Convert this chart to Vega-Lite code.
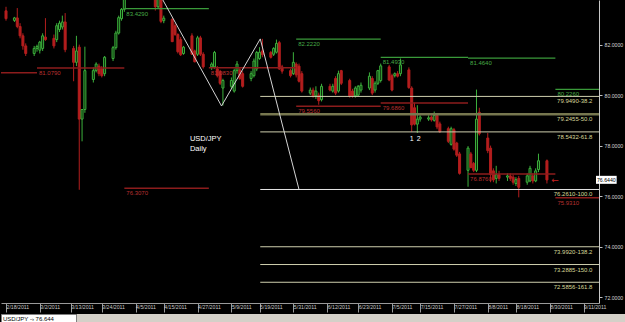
{
  "$schema": "https://vega.github.io/schema/vega-lite/v6.json",
  "background": "black",
  "padding": 0,
  "spacing": 0,
  "config": {
    "view": {"stroke": null},
    "font": "Liberation Sans",
    "axis": {"labelFont": "Liberation Sans", "labelOverlap": false},
    "concat": {"spacing": 0}
  },
  "vconcat": [
    {
      "width": 598,
      "height": 303,
      "view": {"fill": "black", "stroke": null},
      "layer": [
        {
          "data": {
            "values": [
              {"d":"2011-02-18","o":83.34,"h":83.5,"l":82.95,"c":83.03},
              {"d":"2011-02-21","o":82.96,"h":83.1,"l":82.9,"c":83.06},
              {"d":"2011-02-22","o":83.06,"h":83.45,"l":82.65,"c":82.72},
              {"d":"2011-02-23","o":82.72,"h":82.85,"l":82.25,"c":82.35},
              {"d":"2011-02-24","o":82.35,"h":82.45,"l":81.8,"c":81.95},
              {"d":"2011-02-25","o":81.95,"h":82.05,"l":81.55,"c":81.65},
              {"d":"2011-02-28","o":81.65,"h":81.95,"l":81.55,"c":81.85},
              {"d":"2011-03-01","o":81.85,"h":82.0,"l":81.72,"c":81.93},
              {"d":"2011-03-02","o":81.78,"h":82.15,"l":81.65,"c":82.1},
              {"d":"2011-03-03","o":81.85,"h":82.45,"l":81.75,"c":82.35},
              {"d":"2011-03-04","o":82.3,"h":83.05,"l":82.15,"c":82.2},
              {"d":"2011-03-07","o":82.25,"h":82.4,"l":81.85,"c":81.95},
              {"d":"2011-03-08","o":82.2,"h":82.85,"l":82.1,"c":82.75},
              {"d":"2011-03-09","o":82.6,"h":82.95,"l":82.5,"c":82.85},
              {"d":"2011-03-10","o":82.7,"h":83.15,"l":82.6,"c":82.9},
              {"d":"2011-03-11","o":82.9,"h":83.25,"l":81.7,"c":81.8},
              {"d":"2011-03-14","o":81.85,"h":81.95,"l":80.55,"c":81.3},
              {"d":"2011-03-15","o":81.3,"h":82.35,"l":81.15,"c":81.75},
              {"d":"2011-03-16","o":81.9,"h":82.0,"l":76.25,"c":79.05},
              {"d":"2011-03-17","o":79.05,"h":79.45,"l":78.17,"c":79.43},
              {"d":"2011-03-18","o":79.43,"h":81.92,"l":79.3,"c":80.97},
              {"d":"2011-03-21","o":80.62,"h":81.1,"l":80.5,"c":80.97},
              {"d":"2011-03-22","o":80.97,"h":81.3,"l":80.9,"c":81.23},
              {"d":"2011-03-23","o":81.15,"h":81.25,"l":80.75,"c":80.85},
              {"d":"2011-03-24","o":81.04,"h":81.15,"l":80.7,"c":80.77},
              {"d":"2011-03-25","o":80.85,"h":81.55,"l":80.75,"c":81.5},
              {"d":"2011-03-28","o":81.45,"h":81.95,"l":81.35,"c":81.88},
              {"d":"2011-03-29","o":81.88,"h":82.55,"l":81.8,"c":82.46},
              {"d":"2011-03-30","o":82.46,"h":83.15,"l":82.4,"c":83.07},
              {"d":"2011-03-31","o":83.03,"h":83.45,"l":82.95,"c":83.4},
              {"d":"2011-04-01","o":83.4,"h":84.2,"l":83.3,"c":84.05},
              {"d":"2011-04-04","o":84.05,"h":84.45,"l":83.9,"c":84.3},
              {"d":"2011-04-05","o":84.3,"h":85.1,"l":84.2,"c":85.0},
              {"d":"2011-04-06","o":85.0,"h":85.52,"l":84.75,"c":85.2},
              {"d":"2011-04-07","o":85.2,"h":85.3,"l":84.6,"c":84.85},
              {"d":"2011-04-08","o":84.85,"h":85.3,"l":84.5,"c":84.75},
              {"d":"2011-04-11","o":84.75,"h":85.0,"l":84.2,"c":84.3},
              {"d":"2011-04-12","o":84.3,"h":84.4,"l":83.35,"c":83.5},
              {"d":"2011-04-13","o":83.5,"h":84.2,"l":83.45,"c":83.9},
              {"d":"2011-04-14","o":83.85,"h":83.95,"l":82.85,"c":82.92},
              {"d":"2011-04-15","o":82.95,"h":83.15,"l":82.85,"c":83.05},
              {"d":"2011-04-18","o":83.0,"h":83.05,"l":82.1,"c":82.12},
              {"d":"2011-04-19","o":82.75,"h":82.85,"l":82.35,"c":82.4},
              {"d":"2011-04-20","o":82.4,"h":82.45,"l":81.65,"c":81.72},
              {"d":"2011-04-21","o":82.2,"h":82.3,"l":81.55,"c":81.6},
              {"d":"2011-04-22","o":81.65,"h":81.95,"l":81.6,"c":81.9},
              {"d":"2011-04-25","o":82.35,"h":82.45,"l":81.6,"c":81.62},
              {"d":"2011-04-26","o":81.75,"h":81.8,"l":81.3,"c":81.32},
              {"d":"2011-04-27","o":81.62,"h":82.35,"l":81.55,"c":82.27},
              {"d":"2011-04-28","o":82.27,"h":82.35,"l":81.55,"c":81.62},
              {"d":"2011-04-29","o":81.62,"h":81.7,"l":81.05,"c":81.12},
              {"d":"2011-05-02","o":81.12,"h":81.3,"l":81.0,"c":81.23},
              {"d":"2011-05-03","o":81.12,"h":81.75,"l":81.05,"c":81.69},
              {"d":"2011-05-04","o":81.04,"h":81.15,"l":80.7,"c":80.77},
              {"d":"2011-05-05","o":80.93,"h":81.0,"l":80.4,"c":80.47},
              {"d":"2011-05-06","o":80.28,"h":80.65,"l":79.59,"c":80.58},
              {"d":"2011-05-09","o":80.35,"h":80.7,"l":80.25,"c":80.58},
              {"d":"2011-05-10","o":80.16,"h":81.05,"l":80.1,"c":80.97},
              {"d":"2011-05-11","o":80.97,"h":81.35,"l":80.85,"c":81.23},
              {"d":"2011-05-12","o":81.0,"h":81.1,"l":80.6,"c":80.66},
              {"d":"2011-05-13","o":80.85,"h":80.95,"l":80.3,"c":80.35},
              {"d":"2011-05-16","o":80.66,"h":80.95,"l":80.55,"c":80.85},
              {"d":"2011-05-17","o":80.77,"h":81.45,"l":80.7,"c":81.35},
              {"d":"2011-05-18","o":81.04,"h":81.75,"l":80.95,"c":81.69},
              {"d":"2011-05-19","o":81.45,"h":81.9,"l":81.4,"c":81.7},
              {"d":"2011-05-20","o":81.75,"h":82.23,"l":81.5,"c":81.6},
              {"d":"2011-05-23","o":81.69,"h":81.75,"l":81.45,"c":81.5},
              {"d":"2011-05-24","o":81.62,"h":81.9,"l":81.55,"c":81.85},
              {"d":"2011-05-25","o":81.7,"h":82.2,"l":81.65,"c":82.05},
              {"d":"2011-05-26","o":82.08,"h":82.15,"l":81.0,"c":81.04},
              {"d":"2011-05-27","o":81.12,"h":81.2,"l":80.85,"c":80.95},
              {"d":"2011-05-30","o":80.97,"h":81.05,"l":80.7,"c":80.77},
              {"d":"2011-05-31","o":80.85,"h":81.7,"l":80.8,"c":81.3},
              {"d":"2011-06-01","o":81.23,"h":81.3,"l":80.7,"c":80.8},
              {"d":"2011-06-02","o":81.15,"h":81.25,"l":80.5,"c":80.55},
              {"d":"2011-06-03","o":80.85,"h":80.95,"l":80.1,"c":80.16},
              {"d":"2011-06-06","o":80.08,"h":80.3,"l":80.0,"c":80.2},
              {"d":"2011-06-07","o":80.2,"h":80.3,"l":79.9,"c":79.97},
              {"d":"2011-06-08","o":79.97,"h":80.35,"l":79.85,"c":80.16},
              {"d":"2011-06-09","o":80.0,"h":80.1,"l":79.62,"c":79.78},
              {"d":"2011-06-10","o":79.82,"h":80.45,"l":79.75,"c":80.35},
              {"d":"2011-06-13","o":80.35,"h":80.45,"l":80.15,"c":80.2},
              {"d":"2011-06-14","o":80.16,"h":80.45,"l":80.1,"c":80.35},
              {"d":"2011-06-15","o":80.66,"h":80.75,"l":80.0,"c":80.08},
              {"d":"2011-06-16","o":80.16,"h":80.97,"l":80.1,"c":80.85},
              {"d":"2011-06-17","o":80.97,"h":81.0,"l":80.4,"c":80.47},
              {"d":"2011-06-20","o":80.58,"h":80.65,"l":79.9,"c":79.97},
              {"d":"2011-06-21","o":80.16,"h":80.25,"l":79.9,"c":79.97},
              {"d":"2011-06-22","o":79.97,"h":80.35,"l":79.9,"c":80.28},
              {"d":"2011-06-23","o":80.0,"h":80.4,"l":79.95,"c":80.35},
              {"d":"2011-06-24","o":80.2,"h":80.5,"l":80.1,"c":80.39},
              {"d":"2011-06-27","o":80.28,"h":80.9,"l":80.2,"c":80.75},
              {"d":"2011-06-28","o":80.66,"h":80.75,"l":80.0,"c":80.08},
              {"d":"2011-06-29","o":80.2,"h":80.55,"l":80.1,"c":80.47},
              {"d":"2011-06-30","o":80.47,"h":81.0,"l":80.4,"c":80.97},
              {"d":"2011-07-01","o":80.58,"h":81.25,"l":80.5,"c":81.16},
              {"d":"2011-07-04","o":81.12,"h":81.2,"l":80.55,"c":80.6},
              {"d":"2011-07-05","o":80.77,"h":80.85,"l":80.15,"c":80.2},
              {"d":"2011-07-06","o":80.77,"h":80.9,"l":80.7,"c":80.85},
              {"d":"2011-07-07","o":80.85,"h":80.95,"l":80.7,"c":80.75},
              {"d":"2011-07-08","o":80.85,"h":81.45,"l":80.75,"c":81.2},
              {"d":"2011-07-11","o":81.0,"h":81.1,"l":80.25,"c":80.3},
              {"d":"2011-07-12","o":80.28,"h":80.35,"l":78.55,"c":78.82},
              {"d":"2011-07-13","o":79.5,"h":79.7,"l":78.8,"c":78.85},
              {"d":"2011-07-14","o":78.85,"h":79.6,"l":78.5,"c":79.05},
              {"d":"2011-07-15","o":79.05,"h":79.2,"l":78.95,"c":79.13},
              {"d":"2011-07-18","o":79.05,"h":79.2,"l":78.98,"c":79.1},
              {"d":"2011-07-19","o":79.13,"h":79.2,"l":78.95,"c":79.02},
              {"d":"2011-07-20","o":79.0,"h":79.35,"l":78.95,"c":79.2},
              {"d":"2011-07-21","o":79.2,"h":79.25,"l":78.65,"c":78.74},
              {"d":"2011-07-22","o":78.86,"h":78.95,"l":78.5,"c":78.55},
              {"d":"2011-07-25","o":78.67,"h":78.75,"l":78.1,"c":78.17},
              {"d":"2011-07-26","o":78.05,"h":78.75,"l":78.0,"c":78.67},
              {"d":"2011-07-27","o":78.63,"h":78.7,"l":77.8,"c":77.86},
              {"d":"2011-07-28","o":78.1,"h":78.15,"l":77.55,"c":77.62},
              {"d":"2011-07-29","o":77.67,"h":77.75,"l":76.85,"c":76.9},
              {"d":"2011-08-01","o":77.02,"h":77.98,"l":76.37,"c":77.9},
              {"d":"2011-08-02","o":77.67,"h":77.75,"l":77.1,"c":77.13},
              {"d":"2011-08-03","o":77.29,"h":77.35,"l":76.95,"c":77.02},
              {"d":"2011-08-04","o":77.02,"h":80.22,"l":76.95,"c":79.05},
              {"d":"2011-08-05","o":79.32,"h":79.5,"l":78.4,"c":78.47},
              {"d":"2011-08-08","o":78.3,"h":78.5,"l":77.7,"c":77.8},
              {"d":"2011-08-09","o":77.9,"h":78.0,"l":76.55,"c":76.85},
              {"d":"2011-08-10","o":77.0,"h":77.1,"l":76.55,"c":76.64},
              {"d":"2011-08-11","o":76.7,"h":77.2,"l":76.5,"c":76.85},
              {"d":"2011-08-12","o":76.85,"h":77.0,"l":76.6,"c":76.7},
              {"d":"2011-08-15","o":76.75,"h":76.9,"l":76.6,"c":76.8},
              {"d":"2011-08-16","o":76.8,"h":76.9,"l":76.6,"c":76.7},
              {"d":"2011-08-17","o":76.75,"h":76.85,"l":76.45,"c":76.55},
              {"d":"2011-08-18","o":76.5,"h":76.75,"l":76.4,"c":76.65},
              {"d":"2011-08-19","o":76.7,"h":76.8,"l":75.95,"c":76.35},
              {"d":"2011-08-22","o":76.55,"h":76.9,"l":76.45,"c":76.8},
              {"d":"2011-08-23","o":76.6,"h":77.2,"l":76.55,"c":77.1},
              {"d":"2011-08-24","o":76.8,"h":76.9,"l":76.5,"c":76.6},
              {"d":"2011-08-25","o":76.6,"h":77.1,"l":76.55,"c":77.0},
              {"d":"2011-08-26","o":77.05,"h":77.68,"l":76.95,"c":77.4},
              {"d":"2011-08-29","o":77.4,"h":77.45,"l":76.5,"c":76.64}
            ],
            "format": {"parse": {"d": "date:'%Y-%m-%d'"}}
          },
          "layer": [
            {
              "mark": {"type": "rule", "clip": true, "strokeWidth": 1},
              "encoding": {
                "x": {
                  "field": "d", "type": "temporal", "title": null,
                  "scale": {"domain": [{"year": 2011, "month": 2, "date": 18}, {"year": 2011, "month": 9, "date": 14, "hours": 17}]},
                  "axis": {
                    "values": [
                      {"year": 2011, "month": 2, "date": 18}, {"year": 2011, "month": 3, "date": 2},
                      {"year": 2011, "month": 3, "date": 13}, {"year": 2011, "month": 3, "date": 24},
                      {"year": 2011, "month": 4, "date": 5}, {"year": 2011, "month": 4, "date": 15},
                      {"year": 2011, "month": 4, "date": 27}, {"year": 2011, "month": 5, "date": 9},
                      {"year": 2011, "month": 5, "date": 19}, {"year": 2011, "month": 5, "date": 31},
                      {"year": 2011, "month": 6, "date": 12}, {"year": 2011, "month": 6, "date": 23},
                      {"year": 2011, "month": 7, "date": 5}, {"year": 2011, "month": 7, "date": 15},
                      {"year": 2011, "month": 7, "date": 27}, {"year": 2011, "month": 8, "date": 8},
                      {"year": 2011, "month": 8, "date": 18}, {"year": 2011, "month": 8, "date": 30},
                      {"year": 2011, "month": 9, "date": 11}
                    ],
                    "tickCount": 40,
                    "format": "%-m/%-d/%Y",
                    "labelAlign": "left", "labelBaseline": "top", "labelDx": 1.5,
                    "tickSize": 9, "labelPadding": -8, "labelFontSize": 5.2,
                    "labelColor": "#c8c8c8", "tickColor": "#9a9a9a", "domainColor": "#9a9a9a",
                    "labelOverlap": false, "labelFlush": false, "labelBound": false,
                    "title": null, "grid": false
                  }
                },
                "y": {
                  "field": "l", "type": "quantitative", "title": null,
                  "scale": {"domain": [71.962, 83.571], "nice": false, "zero": false},
                  "axis": {
                    "orient": "right", "values": [72, 74, 76, 78, 80, 82], "tickCount": 20, "format": ".4f",
                    "tickSize": 3, "labelPadding": 2, "labelFontSize": 5.2,
                    "labelColor": "#d4d4d4", "tickColor": "#c0c0c0", "domainColor": "#c8c8c8",
                    "labelOverlap": false, "labelFlush": false, "labelBound": false,
                    "title": null, "grid": false
                  }
                },
                "y2": {"field": "h"},
                "color": {"condition": {"test": "datum.c >= datum.o", "value": "#3cb03c"}, "value": "#b41e1e"}
              }
            },
            {
              "mark": {"type": "bar", "clip": true, "width": 2, "strokeWidth": 1},
              "encoding": {
                "x": {"field": "d", "type": "temporal", "title": null},
                "y": {"field": "o", "type": "quantitative", "title": null},
                "y2": {"field": "c"},
                "fill": {"condition": {"test": "datum.c >= datum.o", "value": "#0a2a0a"}, "value": "#b41e1e"},
                "stroke": {"condition": {"test": "datum.c >= datum.o", "value": "#3cb03c"}, "value": "#b41e1e"}
              }
            }
          ]
        },
        {
          "data": {
            "values": [
              {"s": "2011-02-01", "e": "2011-03-01", "p": 80.89, "t": "lo"},
              {"s": "2011-03-01", "e": "2011-04-01", "p": 81.079, "t": "lo"},
              {"s": "2011-04-01", "e": "2011-05-01", "p": 83.429, "t": "hi"},
              {"s": "2011-04-01", "e": "2011-05-01", "p": 76.307, "t": "lo"},
              {"s": "2011-05-01", "e": "2011-06-01", "p": 81.083, "t": "lo"},
              {"s": "2011-06-01", "e": "2011-07-01", "p": 82.222, "t": "hi"},
              {"s": "2011-06-01", "e": "2011-07-01", "p": 79.556, "t": "lo"},
              {"s": "2011-07-01", "e": "2011-08-01", "p": 81.493, "t": "hi"},
              {"s": "2011-07-01", "e": "2011-08-01", "p": 79.686, "t": "lo"},
              {"s": "2011-08-01", "e": "2011-09-01", "p": 81.464, "t": "hi"},
              {"s": "2011-08-01", "e": "2011-09-01", "p": 76.876, "t": "lo"},
              {"s": "2011-09-01", "e": "2011-10-01", "p": 80.226, "t": "hi"},
              {"s": "2011-09-01", "e": "2011-10-01", "p": 75.931, "t": "lo"}
            ],
            "format": {"parse": {"s": "date:'%Y-%m-%d'", "e": "date:'%Y-%m-%d'"}}
          },
          "layer": [
            {
              "transform": [{"filter": "datum.t == 'hi'"}],
              "mark": {"type": "rule", "clip": true, "color": "#3a9a3a", "strokeWidth": 1.2},
              "encoding": {
                "x": {"field": "s", "type": "temporal", "title": null},
                "x2": {"field": "e"},
                "y": {"field": "p", "type": "quantitative", "title": null}
              }
            },
            {
              "transform": [{"filter": "datum.t == 'lo'"}],
              "mark": {"type": "rule", "clip": true, "color": "#8c1c1c", "strokeWidth": 1.5},
              "encoding": {
                "x": {"field": "s", "type": "temporal", "title": null},
                "x2": {"field": "e"},
                "y": {"field": "p", "type": "quantitative", "title": null}
              }
            },
            {
              "transform": [{"filter": "datum.t == 'hi' && month(datum.s) >= 2"}],
              "mark": {"type": "text", "clip": true, "align": "left", "baseline": "top", "dx": 2, "dy": 2, "fontSize": 6, "color": "#46aa46"},
              "encoding": {
                "x": {"field": "s", "type": "temporal", "title": null},
                "y": {"field": "p", "type": "quantitative", "title": null},
                "text": {"field": "p", "type": "quantitative", "format": ".4f"}
              }
            },
            {
              "transform": [{"filter": "datum.t == 'lo' && month(datum.s) >= 2"}],
              "mark": {"type": "text", "clip": true, "align": "left", "baseline": "top", "dx": 2, "dy": 2, "fontSize": 6, "color": "#b83030"},
              "encoding": {
                "x": {"field": "s", "type": "temporal", "title": null},
                "y": {"field": "p", "type": "quantitative", "title": null},
                "text": {"field": "p", "type": "quantitative", "format": ".4f"}
              }
            }
          ]
        },
        {
          "data": {
            "values": [
              {"p": 79.949, "r": 38.2, "lab": "79.9490-38.2"},
              {"p": 79.2455, "r": 50, "lab": "79.2455-50.0"},
              {"p": 78.5432, "r": 61.8, "lab": "78.5432-61.8"},
              {"p": 76.261, "r": 100, "lab": "76.2610-100.0"},
              {"p": 73.992, "r": 138.2, "lab": "73.9920-138.2"},
              {"p": 73.2885, "r": 150, "lab": "73.2885-150.0"},
              {"p": 72.5856, "r": 161.8, "lab": "72.5856-161.8"}
            ]
          },
          "layer": [
            {
              "mark": {"type": "rule", "clip": true},
              "encoding": {
                "x": {"datum": {"year": 2011, "month": 5, "date": 19, "hours": 6}, "type": "temporal", "title": null},
                "x2": {"datum": {"year": 2011, "month": 10, "date": 1}},
                "y": {"field": "p", "type": "quantitative", "title": null},
                "color": {"condition": [{"test": "datum.r == 50", "value": "#77774f"}, {"test": "datum.r == 100", "value": "#e4e4e4"}], "value": "#cfcfae"},
                "strokeWidth": {"condition": {"test": "datum.r == 50", "value": 2.5}, "value": 1}
              }
            },
            {
              "mark": {"type": "text", "clip": true, "align": "right", "baseline": "top", "dx": -1, "dy": 2, "fontSize": 6, "color": "#d8d89a"},
              "encoding": {
                "x": {"datum": {"year": 2011, "month": 9, "date": 14, "hours": 12}, "type": "temporal", "title": null},
                "y": {"field": "p", "type": "quantitative", "title": null},
                "text": {"field": "lab"}
              }
            }
          ]
        },
        {
          "data": {
            "values": [
              {"d": "2011-04-06 00", "p": 85.52},
              {"d": "2011-05-05 12", "p": 79.57},
              {"d": "2011-05-19 06", "p": 82.228},
              {"d": "2011-06-02 00", "p": 76.261}
            ],
            "format": {"parse": {"d": "date:'%Y-%m-%d %H'"}}
          },
          "mark": {"type": "line", "clip": true, "color": "#d4d4d4", "strokeWidth": 1},
          "encoding": {
            "x": {"field": "d", "type": "temporal", "title": null},
            "y": {"field": "p", "type": "quantitative", "title": null}
          }
        },
        {
          "data": {
            "values": [
              {"d": "2011-04-24 07", "p": 78.245, "s": "USD/JPY", "k": "big"},
              {"d": "2011-04-24 07", "p": 77.862, "s": "Daily", "k": "big"},
              {"d": "2011-07-12 00", "p": 78.28, "s": "1", "k": "num"},
              {"d": "2011-07-14 12", "p": 78.28, "s": "2", "k": "num"},
              {"d": "2011-08-30 12", "p": 76.644, "s": "←", "k": "arrow"}
            ],
            "format": {"parse": {"d": "date:'%Y-%m-%d %H'"}}
          },
          "layer": [
            {
              "transform": [{"filter": "datum.k == 'big'"}],
              "mark": {"type": "text", "clip": true, "align": "left", "baseline": "middle", "fontSize": 7.5, "color": "#ffffff"},
              "encoding": {
                "x": {"field": "d", "type": "temporal", "title": null},
                "y": {"field": "p", "type": "quantitative", "title": null},
                "text": {"field": "s"}
              }
            },
            {
              "transform": [{"filter": "datum.k == 'num'"}],
              "mark": {"type": "text", "clip": true, "align": "center", "baseline": "middle", "fontSize": 7, "color": "#ffffff"},
              "encoding": {
                "x": {"field": "d", "type": "temporal", "title": null},
                "y": {"field": "p", "type": "quantitative", "title": null},
                "text": {"field": "s"}
              }
            },
            {
              "transform": [{"filter": "datum.k == 'arrow'"}],
              "mark": {"type": "text", "clip": true, "align": "left", "baseline": "middle", "fontSize": 9, "font": "DejaVu Sans", "color": "#c82020"},
              "encoding": {
                "x": {"field": "d", "type": "temporal", "title": null},
                "y": {"field": "p", "type": "quantitative", "title": null},
                "text": {"field": "s"}
              }
            }
          ]
        },
        {
          "data": {"values": [{"p": 76.644}]},
          "layer": [
            {
              "mark": {"type": "bar", "clip": false, "height": 8, "color": "#ffffff"},
              "encoding": {
                "x": {"datum": {"year": 2011, "month": 9, "date": 15, "hours": 10}, "type": "temporal", "title": null},
                "x2": {"datum": {"year": 2011, "month": 9, "date": 22, "hours": 18}},
                "y": {"field": "p", "type": "quantitative", "title": null}
              }
            },
            {
              "mark": {"type": "text", "clip": false, "align": "center", "baseline": "middle", "fontSize": 5.2, "color": "#000000"},
              "encoding": {
                "x": {"datum": {"year": 2011, "month": 9, "date": 19, "hours": 2}, "type": "temporal", "title": null},
                "y": {"field": "p", "type": "quantitative", "title": null},
                "text": {"field": "p", "type": "quantitative", "format": ".4f"}
              }
            }
          ]
        }
      ]
    },
    {
      "spacing": 0,
      "hconcat": [
        {
          "width": 75,
          "height": 10,
          "view": {"fill": "#ffffff", "stroke": "#808080"},
          "data": {"values": [{"t": "USD/JPY -› 76.644"}]},
          "mark": {"type": "text", "align": "left", "baseline": "middle", "dx": 2, "fontSize": 6, "color": "#000000"},
          "encoding": {
            "x": {"field": "t", "type": "nominal", "scale": {"type": "point", "padding": 0, "align": 0}, "axis": null},
            "text": {"field": "t"}
          }
        },
        {
          "width": 550,
          "height": 10,
          "view": {"fill": "#d4d0c8", "stroke": null},
          "data": {"values": [{"t": ""}]},
          "mark": {"type": "text"},
          "encoding": {"text": {"field": "t"}}
        }
      ]
    }
  ]
}
